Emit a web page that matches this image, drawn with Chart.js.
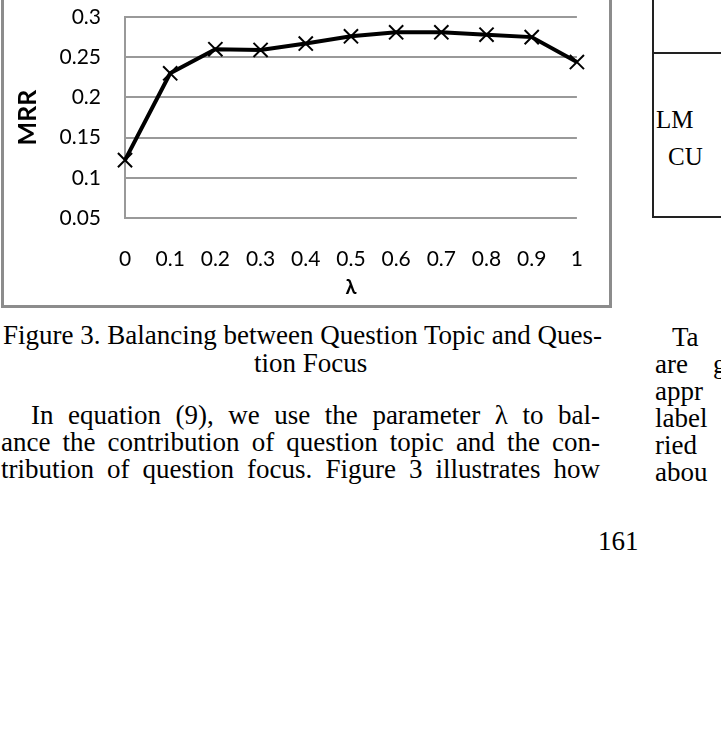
<!DOCTYPE html>
<html><head><meta charset="utf-8">
<script src="https://cdn.jsdelivr.net/npm/chart.js@4.4.1/dist/chart.umd.min.js"></script>
<style>
html,body{margin:0;padding:0;background:#fff}
body{width:721px;height:738px;overflow:hidden;position:relative;font-family:'Liberation Serif','Times New Roman',serif;color:#000}
#box{position:absolute;left:1px;top:-3px;width:611px;height:311px;box-sizing:border-box;border:3px solid #8c8c8c}
#c{position:absolute;left:0;top:0}
.t{position:absolute;white-space:nowrap;font-size:27px;line-height:27px}
.j{text-align:justify;text-align-last:justify;white-space:normal}
.ln{position:absolute;background:#222}
</style></head><body>
<div id="box"></div>
<canvas id="c" width="612" height="310"></canvas>

<div class="ln" style="left:652px;top:0;width:1.5px;height:217px"></div>
<div class="ln" style="left:652px;top:52px;width:70px;height:1.5px"></div>
<div class="ln" style="left:652px;top:216px;width:70px;height:1.5px"></div>
<div class="t" style="left:656px;top:106px;font-size:25px">LM</div>
<div class="t" style="left:668px;top:143px;font-size:25px">CU</div>

<div class="t" style="left:3px;top:322px">Figure 3. Balancing between Question Topic and Ques-</div>
<div class="t" style="left:254px;top:350px">tion Focus</div>
<div class="t j" style="left:31px;top:402px;width:569px">In equation (9), we use the parameter λ to bal-</div>
<div class="t j" style="left:1px;top:429px;width:599px">ance the contribution of question topic and the con-</div>
<div class="t j" style="left:1px;top:456px;width:599px">tribution of question focus. Figure 3 illustrates how</div>
<div class="t" style="left:598px;top:528px">161</div>

<div class="t" style="left:672px;top:324px">Ta</div>
<div class="t" style="left:655px;top:351px">are</div>
<div class="t" style="left:713px;top:351px">g</div>
<div class="t" style="left:655px;top:378px">appr</div>
<div class="t" style="left:655px;top:405px">label</div>
<div class="t" style="left:655px;top:432px">ried</div>
<div class="t" style="left:655px;top:459px">abou</div>

<script>
const lambdaLabels = ['0', '0.1', '0.2', '0.3', '0.4', '0.5', '0.6', '0.7', '0.8', '0.9', '1'];
const mrrValues = [0.122, 0.230, 0.260, 0.259, 0.267, 0.276, 0.281, 0.281, 0.278, 0.275, 0.244];
const yTickValues = [0.05, 0.1, 0.15, 0.2, 0.25, 0.3];
const yAxisTitle = 'MRR';
const xAxisTitle = 'λ';

new Chart(document.getElementById('c'), {
  type: 'line',
  data: {
    labels: lambdaLabels,
    datasets: [{
      data: mrrValues,
      borderColor: '#000',
      borderWidth: 4,
      tension: 0,
      fill: false,
      pointStyle: 'crossRot',
      pointRadius: 10,
      pointHoverRadius: 10,
      pointBorderColor: '#000',
      pointBackgroundColor: '#000',
      pointBorderWidth: 2,
      clip: false
    }]
  },
  options: {
    responsive: false,
    animation: false,
    devicePixelRatio: 1,
    events: [],
    layout: { padding: { top: 17, right: 25, bottom: 0, left: 0 } },
    plugins: { legend: { display: false }, tooltip: { enabled: false } },
    scales: {
      x: {
        type: 'category',
        offset: false,
        grid: { display: false, drawTicks: false },
        border: { display: false },
        ticks: { color: '#000', font: { family: 'Lato', size: 21 }, padding: 29, maxRotation: 0, autoSkip: false },
        title: { display: true, text: xAxisTitle, color: '#000',
                 font: { family: "Lato, 'Open Sans', 'DejaVu Sans', sans-serif", size: 20, weight: 'bold' },
                 padding: { top: 0, bottom: 10 } },
        afterFit(a) { a.height = 92; }
      },
      y: {
        min: 0.05, max: 0.3,
        grid: { color: '#999', lineWidth: 2, drawTicks: true, tickLength: 24, tickColor: 'rgba(0,0,0,0)' },
        border: { display: true, color: '#999', width: 2 },
        afterBuildTicks(a) { a.ticks = yTickValues.map(v => ({ value: v })); },
        ticks: { color: '#000', font: { family: 'Lato', size: 21 }, padding: 0, callback: v => String(v) },
        title: { display: true, text: yAxisTitle, color: '#000',
                 font: { family: 'Lato', size: 25, weight: 'bold' }, padding: { top: 13, bottom: 0 } },
        afterFit(a) { a.width = 125; }
      }
    }
  }
});
</script>
</body></html>
